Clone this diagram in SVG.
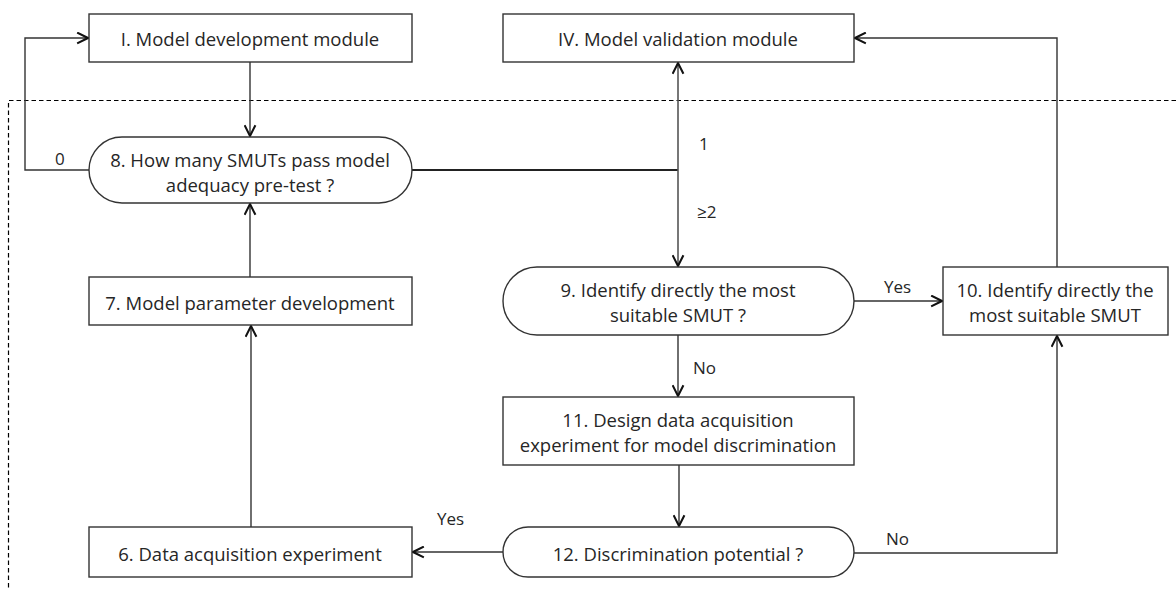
<svg xmlns="http://www.w3.org/2000/svg" width="1176" height="590" viewBox="0 0 1176 590">
<style>
.box{fill:#fff;stroke:#333;stroke-width:1.4}
.t{font-family:"Open Sans","DejaVu Sans",sans-serif;font-size:18.5px;fill:#262626;text-anchor:middle;dominant-baseline:central}
.lab{font-family:"Open Sans","DejaVu Sans",sans-serif;font-size:17px;fill:#262626;dominant-baseline:central}
.c{fill:none;stroke:#333;stroke-width:1.4}
.thick{fill:none;stroke:#222;stroke-width:2.2}
.dash{fill:none;stroke:#000;stroke-width:1.2;stroke-dasharray:4.5 3}
</style>
<defs>
<marker id="ah" viewBox="0 0 12 12" refX="11" refY="6" markerWidth="13" markerHeight="13" markerUnits="userSpaceOnUse" orient="auto">
<path d="M1,1 L11,6 L1,11" fill="none" stroke="#111" stroke-width="1.9"/>
</marker>
</defs>
<path class="dash" d="M1176,100.5 H8.5 V590"/>
<g id="connectors">
<path class="c" d="M250,62 V136" marker-end="url(#ah)"/>
<path class="c" d="M89,170 H25 V38 H88" marker-end="url(#ah)"/>
<path class="thick" d="M412,170 H678"/>
<path class="c" style="stroke:#555;stroke-width:1.6" d="M678,170 V63" marker-end="url(#ah)"/>
<path class="c" style="stroke:#555;stroke-width:1.6" d="M678,170 V266" marker-end="url(#ah)"/>
<path class="c" d="M250,277 V204" marker-end="url(#ah)"/>
<path class="c" d="M251,527 V326" marker-end="url(#ah)"/>
<path class="c" d="M854,301 H942" marker-end="url(#ah)"/>
<path class="c" d="M1057,267 V38 H855" marker-end="url(#ah)"/>
<path class="c" d="M678,335 V396" marker-end="url(#ah)"/>
<path class="c" d="M679,465 V526" marker-end="url(#ah)"/>
<path class="c" d="M503,552 H413" marker-end="url(#ah)"/>
<path class="c" d="M854,553 H1057 V336" marker-end="url(#ah)"/>
<text class="lab" x="55" y="158">0</text>
<text class="lab" x="699" y="143">1</text>
<text class="lab" x="697" y="211">≥2</text>
<text class="lab" x="884" y="286">Yes</text>
<text class="lab" x="693" y="367">No</text>
<text class="lab" x="437" y="518">Yes</text>
<text class="lab" x="886" y="538">No</text>
</g>
<g id="n1"><rect class="box" x="89" y="14" width="323" height="48"/><text class="t" x="250" y="38">I. Model development module</text></g>
<g id="n4"><rect class="box" x="503" y="14" width="351" height="48"/><text class="t" x="678" y="38">IV. Model validation module</text></g>
<g id="n8"><rect class="box" x="89" y="137" width="323" height="66" rx="33"/><text class="t" x="250" y="159">8. How many SMUTs pass model</text><text class="t" x="250" y="184">adequacy pre-test ?</text></g>
<g id="n7"><rect class="box" x="89" y="277" width="323" height="48"/><text class="t" x="250" y="302">7. Model parameter development</text></g>
<g id="n9"><rect class="box" x="503" y="267" width="351" height="68" rx="34"/><text class="t" x="678" y="289">9. Identify directly the most</text><text class="t" x="678" y="314">suitable SMUT ?</text></g>
<g id="n10"><rect class="box" x="943" y="267" width="225" height="68"/><text class="t" x="1055" y="289">10. Identify directly the</text><text class="t" x="1055" y="314">most suitable SMUT</text></g>
<g id="n11"><rect class="box" x="503" y="397" width="351" height="68"/><text class="t" x="678" y="419">11. Design data acquisition</text><text class="t" x="678" y="444">experiment for model discrimination</text></g>
<g id="n12"><rect class="box" x="503" y="527" width="351" height="50" rx="25"/><text class="t" x="678" y="553">12. Discrimination potential ?</text></g>
<g id="n6"><rect class="box" x="89" y="527" width="323" height="50"/><text class="t" x="250" y="553">6. Data acquisition experiment</text></g>
</svg>
